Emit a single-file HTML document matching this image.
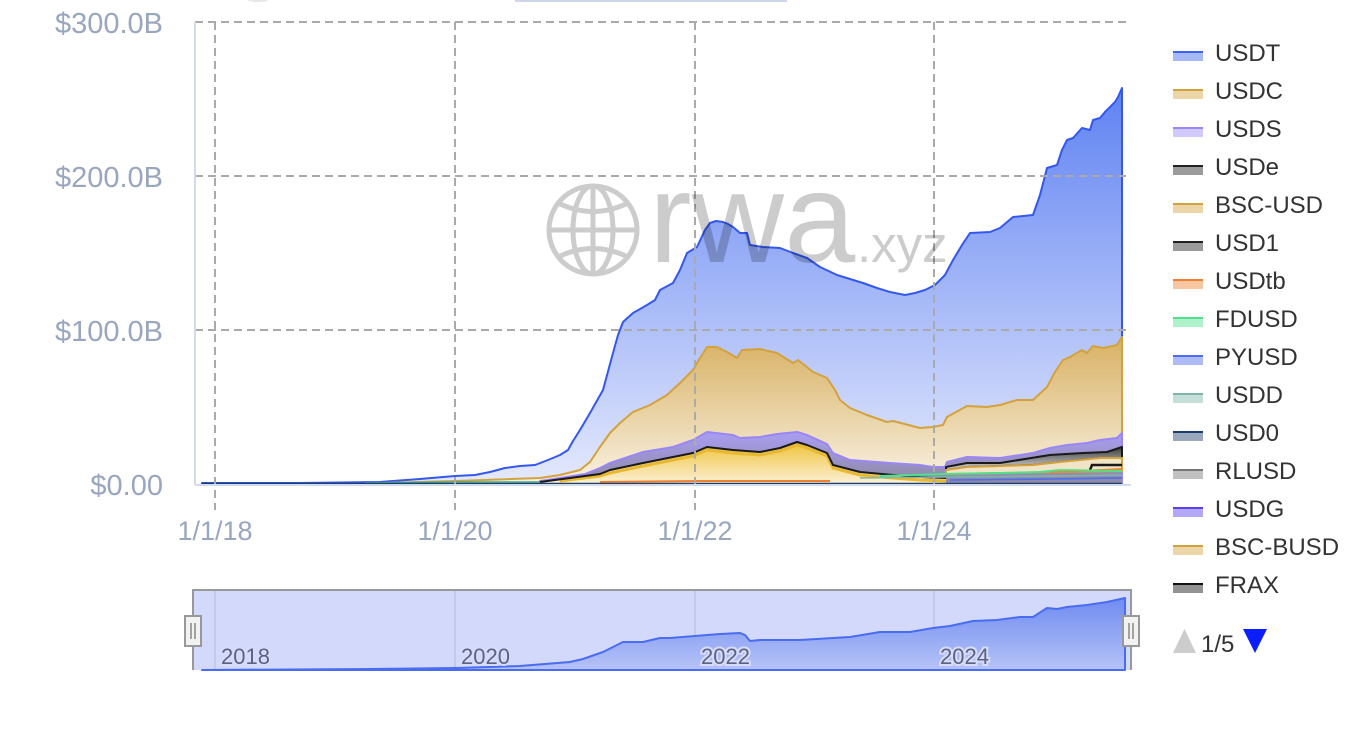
<!DOCTYPE html>
<html><head><meta charset="utf-8"><style>
html,body{margin:0;padding:0;background:#fff;width:1370px;height:740px;overflow:hidden}
svg{display:block;font-family:"Liberation Sans",sans-serif}
</style></head><body>
<svg width="1370" height="740" viewBox="0 0 1370 740" xmlns="http://www.w3.org/2000/svg">
<defs>
<linearGradient id="gT" gradientUnits="userSpaceOnUse" x1="0" y1="88" x2="0" y2="484"><stop offset="0" stop-color="#5f82f2"/><stop offset="1" stop-color="#e4e9fd"/></linearGradient>
<linearGradient id="gC" gradientUnits="userSpaceOnUse" x1="0" y1="337" x2="0" y2="484"><stop offset="0" stop-color="#d8b062"/><stop offset="1" stop-color="#f9f2e3"/></linearGradient>
<linearGradient id="gS" gradientUnits="userSpaceOnUse" x1="0" y1="430" x2="0" y2="480"><stop offset="0" stop-color="#ab9ff5"/><stop offset="1" stop-color="#8f8aa8"/></linearGradient>
<linearGradient id="gY" gradientUnits="userSpaceOnUse" x1="0" y1="445" x2="0" y2="484"><stop offset="0" stop-color="#f0c545"/><stop offset="1" stop-color="#fbf1d6"/></linearGradient>
<linearGradient id="gE" gradientUnits="userSpaceOnUse" x1="0" y1="447" x2="0" y2="468"><stop offset="0" stop-color="#3c3c3c"/><stop offset="1" stop-color="#c9c9c9"/></linearGradient>
<linearGradient id="gN" gradientUnits="userSpaceOnUse" x1="0" y1="598" x2="0" y2="670"><stop offset="0" stop-color="#6f8cf1"/><stop offset="1" stop-color="#b6c3f7"/></linearGradient>
</defs>

<!-- top fragments -->
<rect x="515" y="0" width="272" height="2" fill="#cdd5e9"/>
<ellipse cx="258" cy="0" rx="10" ry="2" fill="#e6e6e6"/>

<!-- USDT area -->
<path fill="url(#gT)" stroke="#3458ee" stroke-width="2" stroke-linejoin="round" d="M202,483 L300,483 L380,482 L420,479 L455,476 L475,475 L490,472 L505,468 L520,466 L535,465 L548,460 L560,455 L568,450 L573,441 L580,430 L590,413 L603,390 L613,353 L618,335 L623,322 L633,313 L647,305 L655,300 L660,290 L673,283 L680,270 L687,253 L697,247 L705,230 L710,223 L716,221 L723,222 L728,224 L733,227 L740,233 L747,233 L750,245 L763,247 L780,248 L793,253 L807,258 L820,267 L837,275 L850,279 L863,283 L877,288 L890,292 L905,295 L915,293 L925,290 L935,285 L945,275 L953,260 L962,245 L970,233 L990,232 L1000,228 L1013,217 L1033,215 L1040,195 L1047,168 L1057,165 L1062,150 L1067,140 L1073,138 L1082,128 L1090,130 L1093,120 L1100,118 L1105,112 L1115,102 L1118,97 L1122,88 L1122,484 L202,484 Z"/>
<!-- USDC area -->
<path fill="url(#gC)" stroke="#d4a23c" stroke-width="2" stroke-linejoin="round" d="M380,483 L455,481 L540,478 L560,475 L580,470 L590,462 L600,447 L610,433 L620,423 L633,412 L650,405 L667,395 L680,383 L693,370 L700,358 L707,347 L717,347 L727,352 L737,358 L742,350 L760,349 L777,353 L793,363 L798,360 L813,372 L827,378 L835,390 L840,400 L850,408 L867,415 L887,422 L893,421 L920,428 L933,427 L943,425 L947,417 L967,406 L987,407 L1000,405 L1017,400 L1033,400 L1047,387 L1055,372 L1063,360 L1070,357 L1082,350 L1087,353 L1093,346 L1103,348 L1117,345 L1122,337 L1122,484 L380,484 Z"/>
<!-- USDS area -->
<path fill="url(#gS)" stroke="#9a86f7" stroke-width="2" stroke-linejoin="round" d="M540,481 L560,478 L585,474 L600,468 L610,463 L643,452 L673,447 L693,440 L707,432 L733,435 L740,438 L760,437 L777,434 L797,432 L807,435 L827,444 L833,453 L850,460 L890,463 L920,465 L933,467 L945,467 L947,462 L967,457 L1000,458 L1033,453 L1050,448 L1067,445 L1087,443 L1100,440 L1117,438 L1122,433 L1122,484 L540,484 Z"/>
<!-- gold area under black (2021-2024) -->
<path fill="url(#gY)" d="M540,482 L600,474 L610,470 L643,463 L673,457 L693,453 L707,447 L733,450 L760,452 L780,448 L797,442 L807,445 L827,453 L833,465 L860,472 L893,475 L920,477 L946,478 L946,484 L540,484 Z"/>
<path fill="none" stroke="#e8b830" stroke-width="3" d="M560,481 L600,476 L610,473 L643,466 L673,460 L693,456 L707,450 L733,453 L760,455 L780,451 L797,445 L807,448 L827,456 L833,468 L860,475 L893,478 L920,480 L946,481"/>
<path fill="none" stroke="#1a1a1a" stroke-width="2" stroke-linejoin="round" d="M540,482 L600,474 L610,470 L643,463 L673,457 L693,453 L707,447 L733,450 L760,452 L780,448 L797,442 L807,445 L827,453 L833,465 L860,472 L893,475 L920,477 L946,478"/>
<!-- USDe grey area (2024+) -->
<path fill="url(#gE)" stroke="#1a1a1a" stroke-width="2" stroke-linejoin="round" d="M946,467 L967,463 L1000,463 L1050,455 L1083,453 L1107,452 L1122,447 L1122,458 L1100,458 L1060,462 L1033,465 L967,467 L946,470 Z"/>
<path fill="#f1e4c6" stroke="#d4a23c" stroke-width="2" d="M946,470 L967,467 L1033,465 L1060,462 L1100,458 L1122,458 L1122,471 L946,474 Z"/>
<path fill="none" stroke="#1a1a1a" stroke-width="2.5" d="M1090,470 L1092,465 L1122,465"/>
<path fill="none" stroke="#f08030" stroke-width="2" d="M1050,472 L1080,471 L1122,469"/>
<path fill="none" stroke="#4ee08a" stroke-width="2" d="M880,476 L945,474 L1000,473 L1040,472 L1060,470 L1122,471"/>
<path fill="none" stroke="#7fb5a8" stroke-width="1.5" d="M860,478 L945,477 L1050,476 L1122,475"/>
<path fill="none" stroke="#4a6cf0" stroke-width="1.5" d="M950,480 L1050,479 L1122,478"/>
<path fill="none" stroke="#f08030" stroke-width="2" d="M600,482 L700,481 L830,481"/>
<path fill="none" stroke="#3fae8c" stroke-width="1.5" d="M365,483 L455,482 L540,482"/>
<path fill="none" stroke="#1d3f6e" stroke-width="1.5" d="M202,483.5 L1122,483.5"/>

<!-- gridlines -->
<g stroke="#aaa" stroke-width="2" stroke-dasharray="8,5" fill="none">
<path d="M195,22 H1127 M195,176 H1127 M195,330 H1127"/>
<path d="M215,22 V510 M455,22 V510 M695,22 V510 M934,22 V510"/>
</g>
<!-- axes -->
<path d="M195,22 V485 M195,485 H1131" stroke="#d2dbec" stroke-width="2" fill="none"/>

<!-- watermark -->
<g fill="none" stroke="#cccccc" stroke-width="5">
<circle cx="593" cy="230" r="44"/>
<ellipse cx="593" cy="230" rx="20" ry="44"/>
<path d="M593,186 V274 M549,230 H637"/>
<path d="M558,203 Q593,220 628,203"/>
<path d="M558,257 Q593,240 628,257"/>
</g>
<g fill="#000" fill-opacity="0.2">
<text x="649" y="262" font-size="128">rwa</text>
<text x="857" y="262" font-size="51">.xyz</text>
</g>

<!-- y labels -->
<g fill="#98a6bf" font-size="29" text-anchor="end">
<text x="163" y="33">$300.0B</text>
<text x="163" y="187">$200.0B</text>
<text x="163" y="341">$100.0B</text>
<text x="163" y="495">$0.00</text>
</g>
<!-- x labels -->
<g fill="#98a6bf" font-size="27" text-anchor="middle">
<text x="215" y="540">1/1/18</text>
<text x="455" y="540">1/1/20</text>
<text x="695" y="540">1/1/22</text>
<text x="934" y="540">1/1/24</text>
</g>

<!-- navigator -->
<rect x="193" y="590" width="938" height="80" fill="#d2d9fa"/>
<g stroke="#bfc6e0" stroke-width="1.5"><path d="M215,590 V670 M455,590 V670 M695,590 V670 M934,590 V670"/></g>
<path fill="url(#gN)" stroke="#4a6cf0" stroke-width="2" stroke-linejoin="round" d="M202,670 L370,669 L457,668 L520,666 L570,662 L583,659 L603,652 L623,642 L643,642 L660,638 L670,638 L695,636 L720,634 L740,633 L745,635 L750,641 L760,640 L800,640 L850,637 L880,632 L910,632 L933,628 L950,626 L973,621 L997,620 L1020,617 L1033,617 L1047,608 L1057,609 L1067,607 L1087,605 L1107,602 L1125,598 L1125,670 L202,670 Z"/>
<g fill="#5c6283" font-size="22" stroke="#d6dcfa" stroke-width="4" paint-order="stroke">
<text x="221" y="664">2018</text>
<text x="461" y="664">2020</text>
<text x="701" y="664">2022</text>
<text x="940" y="664">2024</text>
</g>
<path d="M193,670 V590 H1131 V670" fill="none" stroke="#999" stroke-width="2"/>
<g fill="#f2f2f2" stroke="#999" stroke-width="2">
<rect x="185" y="616" width="16" height="30"/>
<rect x="1123" y="616" width="16" height="30"/>
</g>
<g stroke="#888" stroke-width="1.5"><path d="M191,623 V639 M195,623 V639 M1129,623 V639 M1133,623 V639"/></g>

<!-- legend -->
<g font-size="24" fill="#333">
<text x="1215" y="61">USDT</text>
<text x="1215" y="99">USDC</text>
<text x="1215" y="137">USDS</text>
<text x="1215" y="175">USDe</text>
<text x="1215" y="213">BSC-USD</text>
<text x="1215" y="251">USD1</text>
<text x="1215" y="289">USDtb</text>
<text x="1215" y="327">FDUSD</text>
<text x="1215" y="365">PYUSD</text>
<text x="1215" y="403">USDD</text>
<text x="1215" y="441">USD0</text>
<text x="1215" y="479">RLUSD</text>
<text x="1215" y="517">USDG</text>
<text x="1215" y="555">BSC-BUSD</text>
<text x="1215" y="593">FRAX</text>
</g>
<g>
<rect x="1173" y="51" width="30" height="10" fill="#3d63f2"/>
<rect x="1173" y="89" width="30" height="10" fill="#d4a23c"/>
<rect x="1173" y="127" width="30" height="10" fill="#9a86f7"/>
<rect x="1173" y="165" width="30" height="10" fill="#222"/>
<rect x="1173" y="203" width="30" height="10" fill="#d4a23c"/>
<rect x="1173" y="241" width="30" height="10" fill="#222"/>
<rect x="1173" y="279" width="30" height="10" fill="#f08030"/>
<rect x="1173" y="317" width="30" height="10" fill="#4ee08a"/>
<rect x="1173" y="355" width="30" height="10" fill="#4a6cf0"/>
<rect x="1173" y="393" width="30" height="10" fill="#7fb5a8"/>
<rect x="1173" y="431" width="30" height="10" fill="#1d3f6e"/>
<rect x="1173" y="469" width="30" height="10" fill="#777"/>
<rect x="1173" y="507" width="30" height="10" fill="#5a3ff0"/>
<rect x="1173" y="545" width="30" height="10" fill="#d4a23c"/>
<rect x="1173" y="583" width="30" height="10" fill="#111"/>
</g>
<g fill="#fff" fill-opacity="0.55">
<rect x="1173" y="53" width="30" height="8"/><rect x="1173" y="91" width="30" height="8"/><rect x="1173" y="129" width="30" height="8"/><rect x="1173" y="167" width="30" height="8"/><rect x="1173" y="205" width="30" height="8"/><rect x="1173" y="243" width="30" height="8"/><rect x="1173" y="281" width="30" height="8"/><rect x="1173" y="319" width="30" height="8"/><rect x="1173" y="357" width="30" height="8"/><rect x="1173" y="395" width="30" height="8"/><rect x="1173" y="433" width="30" height="8"/><rect x="1173" y="471" width="30" height="8"/><rect x="1173" y="509" width="30" height="8"/><rect x="1173" y="547" width="30" height="8"/><rect x="1173" y="585" width="30" height="8"/>
</g>
<polygon points="1173,653 1196,653 1184.5,629" fill="#cccccc"/>
<text x="1201" y="652" font-size="24" fill="#333">1/5</text>
<polygon points="1243,629 1267,629 1255,653" fill="#0a1eff"/>
</svg>
</body></html>
